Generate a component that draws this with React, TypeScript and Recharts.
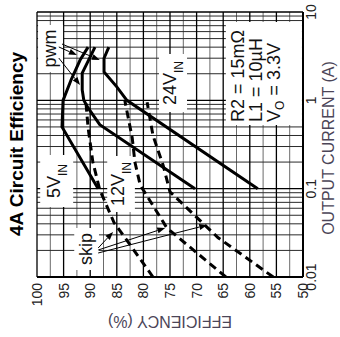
import React from "react";
import {
  LineChart,
  Line,
  XAxis,
  YAxis,
  CartesianGrid,
  ReferenceArea,
  ReferenceLine,
} from "recharts";

type Pt = { i: number; eff: number };

// output current (A) -> efficiency (%)
const pwm5V: Pt[] = [
  { i: 0.1, eff: 88.5 },
  { i: 0.5, eff: 95.3 },
  { i: 1.0, eff: 95.1 },
  { i: 1.7, eff: 93.6 },
  { i: 2.86, eff: 91.9 },
  { i: 4.0, eff: 90.4 },
];
const pwm12V: Pt[] = [
  { i: 0.1, eff: 70.3 },
  { i: 0.53, eff: 88.2 },
  { i: 0.82, eff: 90.4 },
  { i: 1.0, eff: 91.2 },
  { i: 1.31, eff: 91.5 },
  { i: 2.04, eff: 91.5 },
  { i: 4.0, eff: 89.1 },
];
const pwm24V: Pt[] = [
  { i: 0.1, eff: 58.5 },
  { i: 1.0, eff: 83.1 },
  { i: 1.42, eff: 85.0 },
  { i: 2.1, eff: 87.4 },
  { i: 3.0, eff: 87.4 },
  { i: 4.0, eff: 86.5 },
];
const skip5V: Pt[] = [
  { i: 0.01, eff: 78.2 },
  { i: 0.026, eff: 83.1 },
  { i: 0.041, eff: 85.5 },
  { i: 0.097, eff: 88.2 },
  { i: 0.2, eff: 89.5 },
  { i: 0.49, eff: 90.4 },
  { i: 0.95, eff: 90.8 },
];
const skip12V: Pt[] = [
  { i: 0.01, eff: 64.5 },
  { i: 0.036, eff: 75.6 },
  { i: 0.11, eff: 80.6 },
  { i: 0.2, eff: 81.6 },
  { i: 0.375, eff: 82.1 },
  { i: 1.0, eff: 83.5 },
];
const skip24V: Pt[] = [
  { i: 0.01, eff: 55.6 },
  { i: 0.028, eff: 66.0 },
  { i: 0.092, eff: 75.0 },
  { i: 0.185, eff: 76.3 },
  { i: 0.4, eff: 78.2 },
  { i: 0.95, eff: 79.3 },
];

const currentTicks = [0.01, 0.1, 1, 10];
const currentTickLabels = ["0.01", "0.1", "1", "10"];
const currentMinor = [
  0.02, 0.03, 0.04, 0.05, 0.06, 0.07, 0.08, 0.09,
  0.2, 0.3, 0.4, 0.5, 0.6, 0.7, 0.8, 0.9,
  2, 3, 4, 5, 6, 7, 8, 9,
];
const effTicks = [50, 55, 60, 65, 70, 75, 80, 85, 90, 95, 100];
const effMinor = [52.5, 57.5, 62.5, 67.5, 72.5, 77.5, 82.5, 87.5, 92.5, 97.5];

// annotation arrows, from label to curve
const pwmArrows: Pt[][] = [
  [{ i: 4.02, eff: 95.9 }, { i: 3.26, eff: 92.5 }],
  [{ i: 3.01, eff: 95.9 }, { i: 1.49, eff: 91.9 }],
  [{ i: 4.34, eff: 95.3 }, { i: 2.86, eff: 88.2 }],
];
const skipArrows: Pt[][] = [
  [{ i: 0.0213, eff: 88.5 }, { i: 0.0323, eff: 85.7 }],
  [{ i: 0.0202, eff: 88.5 }, { i: 0.0359, eff: 75.9 }],
  [{ i: 0.0187, eff: 88.5 }, { i: 0.0388, eff: 68.0 }],
];

type Note = { i1: number; i2: number; e1: number; e2: number; main: string; sub?: string; shift: number };
const notes: Note[] = [
  { i1: 2.09, i2: 7.13, e1: 95.1, e2: 99.8, main: "pwm", shift: 5 },
  { i1: 0.738, i2: 3.35, e1: 71.8, e2: 77.07, main: "24V", sub: "IN", shift: 3 },
  { i1: 0.062, i2: 0.24, e1: 93.2, e2: 99.4, main: "5V", sub: "IN", shift: 3 },
  { i1: 0.0544, i2: 0.234, e1: 81.6, e2: 86.8, main: "12V", sub: "IN", shift: 3 },
  { i1: 0.012, i2: 0.0359, e1: 88.35, e2: 93.0, main: "skip", shift: 5 },
];

const INK = "#111";

const noteLabel = (n: Note) => (props: any) => {
  const vb = props.viewBox;
  if (!vb) return null;
  const cx = vb.x + vb.width / 2;
  const cy = vb.y + vb.height / 2 + n.shift;
  return (
    <text x={cx} y={cy} textAnchor="middle" fontSize={18} fill={INK}>
      {n.main}
      {n.sub && (
        <tspan fontSize={12} dy={7}>
          {n.sub}
        </tspan>
      )}
    </text>
  );
};

const condLabel = (props: any) => {
  const vb = props.viewBox;
  if (!vb) return null;
  const x = vb.x + 3;
  return (
    <text fontSize={18} fill={INK}>
      <tspan x={x} y={vb.y + 18}>R2 = 15mΩ</tspan>
      <tspan x={x} y={vb.y + 36}>L1 = 10µH</tspan>
      <tspan x={x} y={vb.y + 54}>
        V<tspan fontSize={12} dy={4}>O</tspan>
        <tspan dy={-4}> = 3.3V</tspan>
      </tspan>
    </text>
  );
};

const arrowShape = (p: any) => {
  const x1 = Number(p.x1), y1 = Number(p.y1), x2 = Number(p.x2), y2 = Number(p.y2);
  const len = Math.hypot(x2 - x1, y2 - y1) || 1;
  const ux = (x2 - x1) / len;
  const uy = (y2 - y1) / len;
  const bx = x2 - ux * 8;
  const by = y2 - uy * 8;
  return (
    <g>
      <line x1={x1} y1={y1} x2={bx} y2={by} stroke="#000" strokeWidth={1} />
      <polygon
        points={`${x2},${y2} ${bx - uy * 3},${by + ux * 3} ${bx + uy * 3},${by - ux * 3}`}
        fill="#000"
      />
    </g>
  );
};

export default function App() {
  // drawn in the datasheet's own orientation, then turned a quarter left
  return (
    <div
      style={{
        position: "absolute",
        left: 0,
        top: 0,
        width: 340,
        height: 337,
        overflow: "hidden",
        background: "#fff",
        fontFamily: "'Liberation Sans', Arial, sans-serif",
      }}
    >
      <div
        style={{
          position: "absolute",
          left: 0,
          top: 0,
          width: 337,
          height: 340,
          transformOrigin: "0 0",
          transform: "translate(0px, 337px) rotate(-90deg)",
        }}
      >
        <LineChart width={337} height={340} margin={{ top: 37, right: 12, bottom: 0, left: 0 }}>
          <CartesianGrid
            vertical={false}
            horizontalValues={effMinor}
            stroke="#6a6a6a"
            strokeWidth={1}
          />
          <CartesianGrid
            horizontal={false}
            verticalValues={currentMinor}
            stroke="#2a2a2a"
            strokeWidth={1}
          />
          <CartesianGrid
            verticalValues={currentTicks}
            horizontalValues={effTicks}
            stroke="#000"
            strokeWidth={1.3}
          />
          <XAxis
            dataKey="i"
            type="number"
            scale="log"
            domain={[0.01, 10]}
            ticks={currentTicks}
            interval={0}
            tickFormatter={(v) => currentTickLabels[currentTicks.indexOf(v)] ?? ""}
            tick={{ fontSize: 14, fill: "#222" }}
            tickSize={0}
            tickMargin={3}
            height={37}
            axisLine={{ stroke: "#000", strokeWidth: 2 }}
            tickLine={false}
            allowDataOverflow
          />
          <YAxis
            dataKey="eff"
            type="number"
            domain={[50, 100]}
            ticks={effTicks}
            interval={0}
            tick={{ fontSize: 14, fill: "#222" }}
            tickSize={0}
            tickMargin={6}
            width={60}
            axisLine={{ stroke: "#000", strokeWidth: 2 }}
            tickLine={false}
            allowDataOverflow
          />

          {notes.map((n) => (
            <ReferenceArea
              key={n.main}
              x1={n.i1}
              x2={n.i2}
              y1={n.e1}
              y2={n.e2}
              fill="#fff"
              fillOpacity={1}
              stroke="none"
              label={noteLabel(n)}
            />
          ))}
          <ReferenceArea
            x1={0.526}
            x2={7.7}
            y1={50.2}
            y2={64.5}
            fill="#fff"
            fillOpacity={1}
            stroke="none"
            label={condLabel}
          />

          {[...pwmArrows, ...skipArrows].map((seg, k) => (
            <ReferenceLine
              key={k}
              segment={seg.map((p) => ({ x: p.i, y: p.eff }))}
              shape={arrowShape}
            />
          ))}

          <Line data={pwm5V} dataKey="eff" stroke="#000" strokeWidth={3} dot={false} isAnimationActive={false} />
          <Line data={pwm12V} dataKey="eff" stroke="#000" strokeWidth={3} dot={false} isAnimationActive={false} />
          <Line data={pwm24V} dataKey="eff" stroke="#000" strokeWidth={3} dot={false} isAnimationActive={false} />
          <Line data={skip5V} dataKey="eff" stroke="#000" strokeWidth={3} strokeDasharray="8 5" dot={false} isAnimationActive={false} />
          <Line data={skip12V} dataKey="eff" stroke="#000" strokeWidth={3} strokeDasharray="8 5" dot={false} isAnimationActive={false} />
          <Line data={skip24V} dataKey="eff" stroke="#000" strokeWidth={3} strokeDasharray="8 5" dot={false} isAnimationActive={false} />

          <text x={193} y={23} textAnchor="middle" fontSize={19} fontWeight="bold" fill="#000">
            4A Circuit Efficiency
          </text>
          <text x={21} y={170} transform="rotate(-90, 21, 170)" textAnchor="middle" fontSize={16} fill="#4b4557">
            EFFICIENCY (%)
          </text>
          <text x={189} y={334} textAnchor="middle" fontSize={16} fill="#4b4557">
            OUTPUT CURRENT (A)
          </text>
        </LineChart>
      </div>
    </div>
  );
}
